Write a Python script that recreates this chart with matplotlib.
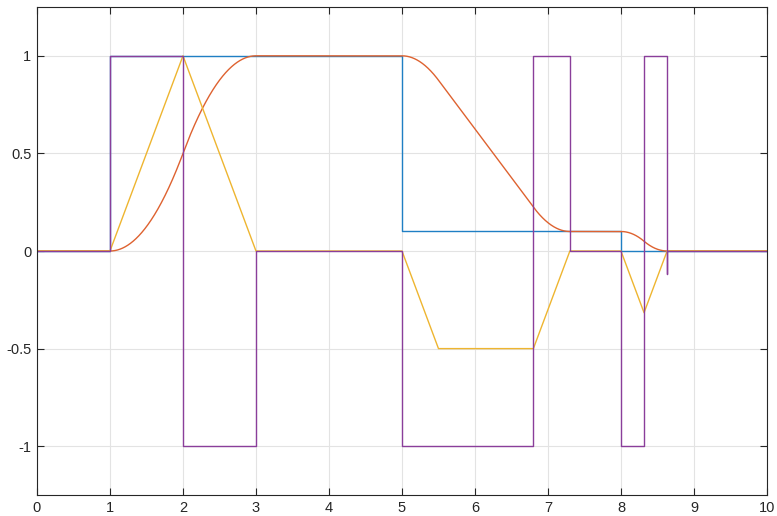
import numpy as np
import matplotlib
matplotlib.use("Agg")
import matplotlib.pyplot as plt

plt.rcParams['font.family'] = ['Liberation Sans', 'DejaVu Sans']

# reference (blue)
ref_t = [0, 1, 1, 5, 5, 8, 8, 10]
ref_v = [0, 0, 1, 1, 0.1, 0.1, 0, 0]

# velocity breakpoints (yellow)
vel_t = [0, 1, 2, 3, 5, 5.5, 6.8, 7.3, 8, 8.316, 8.632, 10]
vel_v = [0, 0, 1, 0, 0, -0.5, -0.5, 0, 0, -0.316, 0, 0]

# acceleration steps (purple)
acc_t = [0, 1, 1, 2, 2, 3, 3, 5, 5, 6.8, 6.8, 7.3, 7.3, 8, 8, 8.316, 8.316, 8.632, 8.632, 8.632, 10]
acc_v = [0, 0, 1, 1, -1, -1, 0, 0, -1, -1, 1, 1, 0, 0, -1, -1, 1, 1, -0.12, 0, 0]

# position (orange) = integral of the velocity profile
t_fine = np.linspace(0, 10, 4001)
v_fine = np.interp(t_fine, vel_t, vel_v)
pos = np.concatenate([[0], np.cumsum(0.5 * (v_fine[1:] + v_fine[:-1]) * np.diff(t_fine))])

fig = plt.figure(figsize=(7.77, 5.16), dpi=100)
ax = fig.add_axes([0.0476, 0.0407, 0.9395, 0.9457])

lw = 1.0
ax.plot(ref_t, ref_v, color='#1f7fc4', lw=lw)
ax.plot(t_fine, pos, color='#de6230', lw=lw)
ax.plot(vel_t, vel_v, color='#eeb530', lw=lw)
ax.plot(acc_t, acc_v, color='#8a3e9a', lw=lw)

ax.set_xlim(0, 10)
ax.set_ylim(-1.25, 1.25)
ax.set_xticks(range(0, 11))
ax.set_yticks([-1, -0.5, 0, 0.5, 1])
ax.set_yticklabels(['-1', '-0.5', '0', '0.5', '1'])
ax.grid(True, color='#e3e3e3', lw=0.8)
ax.set_axisbelow(True)
ax.tick_params(direction='in', length=5, width=0.8, top=True, right=True,
               labelsize=10.5, colors='#262626', pad=4)
for s in ax.spines.values():
    s.set_color('#262626')
    s.set_linewidth(0.8)

fig.savefig('out.png', dpi=100)
